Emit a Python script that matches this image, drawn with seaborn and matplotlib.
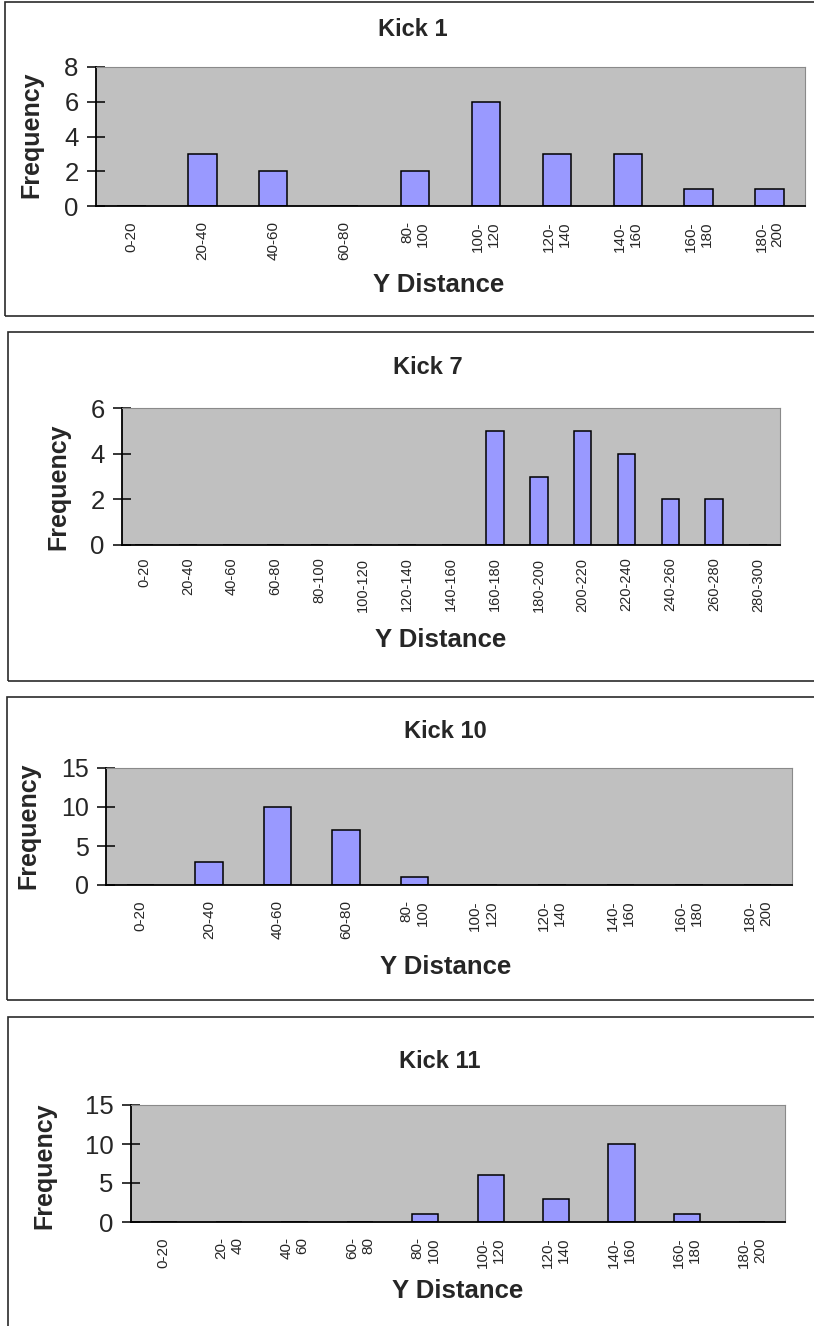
import matplotlib
matplotlib.use("Agg")
import matplotlib.pyplot as plt
import seaborn as sns
import numpy as np
import pandas as pd
from matplotlib.patches import Rectangle

# ---------------- data ----------------
kick1_labels = ["0-20", "20-40", "40-60", "60-80", "80-\n100", "100-\n120",
                "120-\n140", "140-\n160", "160-\n180", "180-\n200"]
kick1_freq = [0, 3, 2, 0, 2, 6, 3, 3, 1, 1]

kick7_labels = ["0-20", "20-40", "40-60", "60-80", "80-100", "100-120", "120-140",
                "140-160", "160-180", "180-200", "200-220", "220-240", "240-260",
                "260-280", "280-300"]
kick7_freq = [0, 0, 0, 0, 0, 0, 0, 0, 5, 3, 5, 4, 2, 2, 0]

kick10_labels = ["0-20", "20-40", "40-60", "60-80", "80-\n100", "100-\n120",
                 "120-\n140", "140-\n160", "160-\n180", "180-\n200"]
kick10_freq = [0, 3, 10, 7, 1, 0, 0, 0, 0, 0]

kick11_labels = ["0-20", "20-\n40", "40-\n60", "60-\n80", "80-\n100", "100-\n120",
                 "120-\n140", "140-\n160", "160-\n180", "180-\n200"]
kick11_freq = [0, 0, 0, 0, 1, 6, 3, 10, 1, 0]

titles = ["Kick 1", "Kick 7", "Kick 10", "Kick 11"]
y_ticks = [[0, 2, 4, 6, 8], [0, 2, 4, 6], [0, 5, 10, 15], [0, 5, 10, 15]]

# ---------------- style ----------------
sns.set_style("white")
plt.rcParams["font.family"] = ["Liberation Sans", "DejaVu Sans"]

W, H = 814, 1326
fig = plt.figure(figsize=(W / 100, H / 100), dpi=100)
fig.patch.set_facecolor("white")


def rect_px(l, t, r, b):
    return [l / W, 1 - b / H, (r - l) / W, (b - t) / H]


# layout per panel (pixels)
panels = [
    dict(labels=kick1_labels, freq=kick1_freq, box=(5, 2, 830, 316),
         plot=(96, 67, 805, 206), title_xy=(413, 30), xlabel_xy=(439, 285),
         ylabel_xy=(31, 135), ytick_fs=18.5, xtick_fs=11, xpad=11),
    dict(labels=kick7_labels, freq=kick7_freq, box=(8, 332, 830, 681),
         plot=(122, 408, 780, 545), title_xy=(428, 367), xlabel_xy=(441, 640),
         ylabel_xy=(58, 487), ytick_fs=18.5, xtick_fs=10.5, xpad=9),
    dict(labels=kick10_labels, freq=kick10_freq, box=(7, 697, 830, 1000),
         plot=(106, 768, 792, 885), title_xy=(445, 731), xlabel_xy=(446, 967),
         ylabel_xy=(28, 826), ytick_fs=18, xtick_fs=11, xpad=11),
    dict(labels=kick11_labels, freq=kick11_freq, box=(8, 1017, 830, 1340),
         plot=(131, 1105, 785, 1222), title_xy=(440, 1061), xlabel_xy=(458, 1291),
         ylabel_xy=(44, 1166), ytick_fs=18.5, xtick_fs=11, xpad=11),
]

for i, p in enumerate(panels):
    # outer chart border
    x0, y0, x1, y1 = p["box"]
    fig.add_artist(Rectangle((x0 / W, 1 - y1 / H), (x1 - x0) / W, (y1 - y0) / H,
                             transform=fig.transFigure, fill=False,
                             edgecolor="#2a2a2a", linewidth=1.2))

    ax = fig.add_axes(rect_px(*p["plot"]))
    labels = p["labels"]
    n = len(labels)
    df = pd.DataFrame({"range": labels, "freq": p["freq"]})
    sns.barplot(data=df, x="range", y="freq", order=labels, color="#9999FF",
                saturation=1, edgecolor="black", linewidth=1.1, width=0.4, ax=ax)
    ax.set_facecolor("#C0C0C0")
    ax.set_xlim(-0.5, n - 0.5)
    yt = y_ticks[i]
    ax.set_ylim(0, yt[-1])
    ax.set_yticks(yt)
    ax.set_yticklabels([str(v) for v in yt], fontsize=p["ytick_fs"])
    ax.set_xticks(np.arange(n + 1) - 0.5, [""] * (n + 1))
    ax.set_xticks(np.arange(n), labels, minor=True, rotation=90,
                  fontsize=p["xtick_fs"])
    for t in ax.get_xticklabels(minor=True):
        t.set_multialignment("right")
    ax.tick_params(axis="x", which="major", direction="inout", length=8,
                   width=1.1, color="black")
    ax.tick_params(axis="x", which="minor", length=0, pad=p["xpad"])
    ax.tick_params(axis="y", which="major", direction="inout", length=13,
                   width=1.1, color="black", pad=6, left=True)
    ax.set_xlabel("")
    ax.set_ylabel("")
    for side in ("left", "bottom"):
        ax.spines[side].set_color("black")
        ax.spines[side].set_linewidth(1.3)
    for side in ("top", "right"):
        ax.spines[side].set_color("#8a8a8a")
        ax.spines[side].set_linewidth(0.8)

    tx, ty = p["title_xy"]
    fig.text(tx / W, 1 - ty / H, titles[i], ha="center", va="center",
             fontsize=17, fontweight="bold")
    lx, ly = p["xlabel_xy"]
    fig.text(lx / W, 1 - ly / H, "Y Distance", ha="center", va="center",
             fontsize=18.5, fontweight="bold")
    yx, yy = p["ylabel_xy"]
    fig.text(yx / W, 1 - yy / H, "Frequency", ha="center", va="center",
             rotation=90, fontsize=18, fontweight="bold")

fig.savefig("out.png", dpi=100, facecolor="white")
